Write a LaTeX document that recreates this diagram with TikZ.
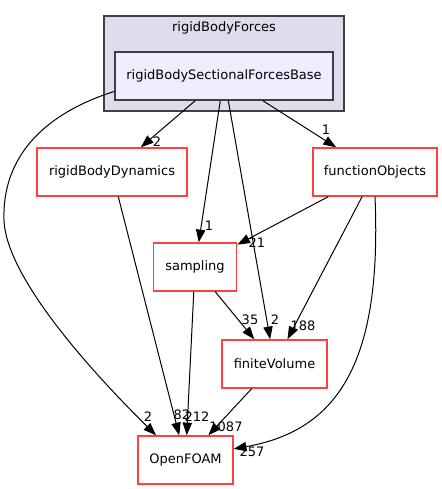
\documentclass[tikz,border=0pt]{standalone}
\usepackage{fontspec}
\setmainfont{DejaVu Sans}
\usetikzlibrary{arrows.meta}

\definecolor{clusterfill}{HTML}{DDDDEE}
\definecolor{basefill}{HTML}{EEEEFF}
\definecolor{dirred}{HTML}{FF4040}
\definecolor{framegray}{HTML}{404040}

\tikzset{
  dirnode/.style={draw=dirred, line width=1.1pt, fill=white, minimum height=36pt, inner sep=0pt},
  dep/.style={-{Triangle[length=9.5pt, width=7pt]}, line width=0.75pt, black},
  count/.style={inner sep=0pt}
}

\begin{document}
\begin{tikzpicture}[x=0.75pt, y=-0.75pt, font=\fontsize{9.75}{11}\selectfont]
    \useasboundingbox (0,0) rectangle (442,489);
    \draw [fill=clusterfill, draw=framegray, line width=1pt] (104,16) rectangle (344,111);
    \node (forceslabel) at (224,28) {rigidBodyForces};
    \node [draw=framegray, fill=basefill, line width=1pt, minimum width=163.5pt, minimum height=36pt, inner sep=0pt] (base) at (224,76) {rigidBodySectionalForcesBase};

    \node [dirnode, minimum width=112.5pt] (dynamics) at (112,172) {rigidBodyDynamics};
    \node [dirnode, minimum width=93pt]    (funcobj)  at (375,172) {functionObjects};
    \node [dirnode, minimum width=62.5pt]  (sampling) at (195,267) {sampling};
    \node [dirnode, minimum width=78.75pt] (finvol)   at (274.5,364) {finiteVolume};
    \node [dirnode, minimum width=71.25pt] (openfoam) at (185.5,460) {OpenFOAM};

    \draw [dep] (base) -- (dynamics);
    \draw [dep] (base) -- (sampling);
    \draw [dep] (base) -- (finvol);
    \draw [dep] (base) -- (funcobj);
    \draw [dep] (base.188) .. controls (40,115) and (2,160) .. (4,220)
                           .. controls (6,280) and (100,380) .. (openfoam.140);
    \draw [dep] (dynamics) -- (openfoam);
    \draw [dep] (funcobj) -- (sampling);
    \draw [dep] (funcobj) -- (finvol);
    \draw [dep] (funcobj.south) .. controls (382,360) and (340,430) .. (openfoam.13);
    \draw [dep] (sampling) -- (finvol);
    \draw [dep] (sampling) -- (openfoam);
    \draw [dep] (finvol) -- (openfoam);

    \node [count] (cdyn)  at (157,142) {2};
    \node [count] (cfo)   at (326,130) {1};
    \node [count] (csmp)  at (209,226) {1};
    \node [count] (cfos)  at (257,243) {21};
    \node [count] (csfv)  at (250,320) {35};
    \node [count] (cbfv)  at (275,320) {2};
    \node [count] (cfofv) at (303,326) {188};
    \node [count] (cbof)  at (148,417) {2};
    \node [count] (cdof)  at (182,415) {82};
    \node [count] (csof)  at (197,417) {212};
    \node [count] (cfvof) at (226,427) {1087};
    \node [count] (cfoof) at (252,452) {257};
\end{tikzpicture}
\end{document}
